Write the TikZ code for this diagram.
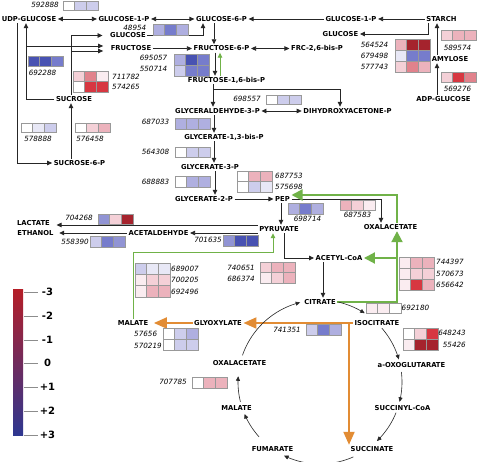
\documentclass[tikz,border=0pt]{standalone}
\usepackage{fontspec}
\setmainfont{DejaVu Sans}
\usetikzlibrary{arrows.meta,calc}
\definecolor{grn}{RGB}{112,178,72}
\definecolor{org}{RGB}{226,140,52}
\definecolor{L1}{RGB}{232,232,246}
\definecolor{L2}{RGB}{205,205,236}
\definecolor{L3}{RGB}{175,175,224}
\definecolor{L4}{RGB}{145,148,212}
\definecolor{B1}{RGB}{118,124,204}
\definecolor{B2}{RGB}{72,82,178}
\definecolor{P1}{RGB}{250,236,240}
\definecolor{P2}{RGB}{244,208,215}
\definecolor{P3}{RGB}{236,178,188}
\definecolor{P4}{RGB}{225,130,140}
\definecolor{R1}{RGB}{215,55,65}
\definecolor{R2}{RGB}{165,35,45}
\definecolor{lgtop}{RGB}{180,30,40}
\definecolor{lgbot}{RGB}{45,55,145}
\newcommand{\heatrow}[6]{%
  \filldraw[hbx,fill=#4] (#1,#2) rectangle ++(11.6,#3);
  \filldraw[hbx,fill=#5] ({#1+11.6},#2) rectangle ++(11.6,#3);
  \filldraw[hbx,fill=#6] ({#1+23.2},#2) rectangle ++(11.6,#3);}
\begin{document}
\begin{tikzpicture}[x=1pt,y=-1pt,
  met/.style={font=\bfseries\fontsize{6.8}{7}\selectfont, inner sep=1.5pt, text height=5pt, text depth=0pt},
  num/.style={font=\itshape\fontsize{7.2}{8}\selectfont, inner sep=1pt, text height=5.2pt, text depth=0pt},
  leg/.style={font=\bfseries\fontsize{10}{11}\selectfont, inner sep=1pt},
  ln/.style={draw=black!85, line width=0.8pt},
  ar/.style={ln, -{Triangle[length=5pt,width=4.5pt]}},
  dar/.style={ln, {Triangle[length=5pt,width=4.5pt]}-{Triangle[length=5pt,width=4.5pt]}},
  gbig/.style={draw=grn, line width=2pt, -{Triangle[length=11pt,width=11pt]}},
  gthin/.style={draw=grn, line width=1pt, -{Triangle[length=5pt,width=4.5pt]}},
  obig/.style={draw=org, line width=2pt, -{Triangle[length=13pt,width=11pt]}},
  tca/.style={draw=black!85, line width=0.6pt, -{Triangle[length=4.5pt,width=4pt]}},
  hbx/.style={draw=black!40, line width=0.5pt},
  tick/.style={draw=black!45, line width=0.7pt}]
\useasboundingbox (0,0) rectangle (477,462);
\fill[white] (0,0) rectangle (477,462);
% metabolites
\node[met] (udpg) at (29,19) {UDP-GLUCOSE};
\node[met] (g1p) at (124,19) {GLUCOSE-1-P};
\node[met] (g6p) at (221.5,19) {GLUCOSE-6-P};
\node[met] (g1pr) at (351,19) {GLUCOSE-1-P};
\node[met] (starch) at (441.5,19) {STARCH};
\node[met] (glcl) at (128,35.5) {GLUCOSE};
\node[met] (glcr) at (340.5,34) {GLUCOSE};
\node[met] (fru) at (131,48.5) {FRUCTOSE};
\node[met] (f6p) at (221.5,48.5) {FRUCTOSE-6-P};
\node[met] (frc) at (317,48.5) {FRC-2,6-bis-P};
\node[met] (amyl) at (450,59) {AMYLOSE};
\node[met] (adpg) at (443.5,99) {ADP-GLUCOSE};
\node[met] (f16) at (226.5,80) {FRUCTOSE-1,6-bis-P};
\node[met] (suc) at (74,99) {SUCROSE};
\node[met] (g3p) at (217.5,111) {GLYCERALDEHYDE-3-P};
\node[met] (dhap) at (347.5,111) {DIHYDROXYACETONE-P};
\node[met] (g13) at (224,137) {GLYCERATE-1,3-bis-P};
\node[met] (s6p) at (79.5,163) {SUCROSE-6-P};
\node[met] (g3pa) at (210,167) {GLYCERATE-3-P};
\node[met] (g2p) at (204,199) {GLYCERATE-2-P};
\node[met] (pep) at (282.5,199) {PEP};
\node[met] (oaa1) at (390.5,227) {OXALACETATE};
\node[met] (lac) at (33.5,223.5) {LACTATE};
\node[met] (eth) at (35.5,233) {ETHANOL};
\node[met] (acet) at (158.5,233) {ACETALDEHYDE};
\node[met] (pyr) at (279,229) {PYRUVATE};
\node[met] (acoa) at (339,258) {ACETYL-CoA};
\node[met] (cit) at (320,302) {CITRATE};
\node[met] (mal1) at (133,323) {MALATE};
\node[met] (glx) at (218,323) {GLYOXYLATE};
\node[met] (icit) at (377,323) {ISOCITRATE};
\node[met] (oaa2) at (239.5,363) {OXALACETATE};
\node[met] (aoxo) at (411.5,365) {a-OXOGLUTARATE};
\node[met] (mal2) at (236.5,408) {MALATE};
\node[met] (scoa) at (402.5,408) {SUCCINYL-CoA};
\node[met] (fum) at (272.5,449) {FUMARATE};
\node[met] (succ) at (372,449) {SUCCINATE};
% black connectors
\draw[dar] (udpg) -- (g1p);
\draw[dar] (g1p) -- (g6p);
\draw[ar] (g1pr) -- (g6p);
\draw[ar] (starch) -- (g1pr);
\draw[ar] ([xshift=-13.5pt]starch.south) |- (glcr.east);
\draw[ar] ([xshift=-13pt]amyl.north) -- ([xshift=-4.5pt]starch.south);
\draw[ar] ([xshift=-6.5pt]adpg.north) -- ([xshift=-13pt]amyl.south);
\draw[ar] ([xshift=-12pt]udpg.south) |- (s6p.west);
\draw[ar] (suc.west) -| ([xshift=-3pt]udpg.south);
\draw[ar] ([xshift=-8.5pt]s6p.north) -- ([xshift=-3pt]suc.south);
\coordinate (j1) at (26,46);
\draw[ar,shorten >=6pt] (j1) -- (j1 -| fru.west);
\draw[ar,shorten >=6pt] ([xshift=-3pt]suc.north) |- (glcl.west);
\coordinate (k1) at (71,51);
\draw[ar,shorten >=6pt] (k1) -- (k1 -| fru.west);
\draw[ar] (glcl.east) -| ([xshift=-18.5pt]g6p.south);
\draw[ar] (fru) -- (f6p);
\draw[ar] ([xshift=-7.5pt]g6p.south) -- ([xshift=-7.5pt]f6p.north);
\draw[dar] (f6p) -- (frc);
\draw[ar] ([xshift=-6.5pt]f6p.south) -- ([xshift=-11.5pt]f16.north);
\draw[gthin,line width=0.8pt] ([xshift=-6.5pt]f16.north) -- ([xshift=-1.5pt]f6p.south);
\draw[ar] ([xshift=-13.5pt]f16.south) -- ([xshift=-4.5pt]g3p.north);
\coordinate (t1) at (213,89);
\draw[ar] (t1) -| ([xshift=-7.5pt]dhap.north);
\draw[dar] (g3p) -- (dhap);
\draw[ar] ([xshift=-3.5pt]g3p.south) -- ([xshift=-10pt]g13.north);
\draw[ar] ([xshift=-10pt]g13.south) -- ([xshift=4pt]g3pa.north);
\draw[ar] ([xshift=5pt]g3pa.south) -- ([xshift=11pt]g2p.north);
\draw[ar] (g2p) -- (pep);
\draw[ar] ([xshift=-1.5pt]pep.south) -- ([xshift=2pt]pyr.north);
\draw[ar] (pep.east) -| ([xshift=-9.5pt]oaa1.north);
\draw[ar] ([xshift=5pt]pyr.south) |- (acoa.west);
\draw[ar] ([xshift=-16pt]acoa.south) -- ([xshift=3pt]cit.north);
\coordinate (pl) at ([yshift=4pt]pyr.west);
\draw[ar,shorten >=5pt] (pl) -- (pl -| lac.east);
\draw[ar] ([yshift=-4pt]pyr.west) -- (acet.east);
\draw[ar,shorten >=4pt] (acet) -- (eth);
% green connectors
\draw[gbig] ([xshift=6.5pt]oaa1.north) |- ([yshift=4pt]pep.east);
\draw[gbig] (cit.east) -| ([xshift=6.5pt]oaa1.south);
\coordinate (c2) at (397,258);
\draw[gbig] (c2) -- (acoa.east);
\coordinate (g1) at (133,253);
\draw[gthin] (mal1.north) -- (g1) -| ([xshift=-6pt]pyr.south);
% orange connectors
\draw[obig,shorten >=4pt] (glx) -- (mal1);
\draw[obig] (icit) -- (glx);
\coordinate (o1) at (349,323);
\draw[obig] (o1) -- (o1 |- succ.north);
% TCA cycle
\foreach \a/\b in {-77/-57,-41/-16,-7/14,22/46,66/116,138/157,166/184,199/256}
  \draw[tca] plot[domain=\a:\b,samples=20] ({320+82*cos(\x)},{382+82*sin(\x)});
% heat boxes
\heatrow{63}{1}{9}{white}{L2}{L2}
\heatrow{153}{24}{11}{L3}{B1}{L3}
\heatrow{28}{56}{10}{B2}{B2}{B1}
\heatrow{73}{71}{10.5}{P2}{P4}{P1}
\heatrow{73}{81.5}{10.5}{white}{R1}{R1}
\heatrow{21}{123}{9.5}{white}{L1}{L2}
\heatrow{75}{123}{9.5}{white}{P2}{P3}
\heatrow{174}{54}{11}{L3}{B2}{B1}
\heatrow{174}{65}{11}{L2}{B1}{B1}
\heatrow{175}{118}{11}{L3}{L3}{L3}
\heatrow{175}{147}{10}{white}{L2}{L2}
\heatrow{175}{176}{11}{white}{L3}{L3}
\heatrow{266}{95}{9.5}{white}{L2}{L2}
\heatrow{395}{39}{11}{P3}{R2}{R2}
\heatrow{395}{50}{11}{L1}{B1}{B1}
\heatrow{395}{61}{11}{P2}{P4}{P3}
\heatrow{441}{30}{10}{P2}{P3}{P3}
\heatrow{441}{72}{10}{P2}{R1}{P4}
\heatrow{237}{171}{10.5}{white}{P3}{P3}
\heatrow{237}{181.5}{10.5}{white}{L2}{L1}
\heatrow{288}{203}{11}{L3}{B1}{L3}
\heatrow{340}{200}{10}{P3}{P2}{P1}
\heatrow{98}{214}{10}{L4}{P2}{R2}
\heatrow{90}{236}{11}{L2}{B1}{L4}
\heatrow{223}{235}{11}{L4}{B2}{B2}
\heatrow{135}{263}{11.3}{L2}{L1}{L1}
\heatrow{135}{274.3}{11.3}{P1}{P2}{P2}
\heatrow{135}{285.6}{11.3}{P1}{P3}{P3}
\heatrow{260}{262}{10.5}{P2}{P3}{P3}
\heatrow{260}{272.5}{10.5}{P1}{P2}{P3}
\heatrow{399}{257}{11}{P1}{P3}{P3}
\heatrow{399}{268}{11}{P1}{P2}{P2}
\heatrow{399}{279}{11}{P1}{R1}{P3}
\heatrow{366}{303.5}{10}{P1}{P1}{white}
\heatrow{403}{328}{11}{white}{P2}{R1}
\heatrow{403}{339}{11}{P1}{R2}{R2}
\heatrow{163}{328}{11}{white}{L2}{L3}
\heatrow{163}{339}{11}{white}{L2}{L2}
\heatrow{306}{324.5}{10.5}{L2}{B1}{L3}
\heatrow{192}{377}{11}{white}{P3}{P3}
% numbers
\node[num,anchor=east] (n592888) at (60,5) {592888};
\node[num,anchor=east] (n48954) at (147.5,28) {48954};
\node[num] (n692288) at (42.5,73) {692288};
\node[num,anchor=west] (n711782) at (111,77) {711782};
\node[num,anchor=west] (n574265) at (111,87) {574265};
\node[num] (n578888) at (38,139) {578888};
\node[num] (n576458) at (90,139) {576458};
\node[num,anchor=east] (n695057) at (168.5,57.5) {695057};
\node[num,anchor=east] (n550714) at (168.5,68.5) {550714};
\node[num,anchor=east] (n687033) at (170.5,122) {687033};
\node[num,anchor=east] (n564308) at (170.5,151.5) {564308};
\node[num,anchor=east] (n688883) at (170.5,181.5) {688883};
\node[num,anchor=east] (n698557) at (262,99) {698557};
\node[num,anchor=east] (n564524) at (389.5,44.5) {564524};
\node[num,anchor=east] (n679498) at (389.5,55.5) {679498};
\node[num,anchor=east] (n577743) at (389.5,66.5) {577743};
\node[num] (n589574) at (457.5,48) {589574};
\node[num] (n569276) at (457.5,89) {569276};
\node[num,anchor=west] (n687753) at (274,176) {687753};
\node[num,anchor=west] (n575698) at (274,187) {575698};
\node[num] (n698714) at (307.5,218.5) {698714};
\node[num] (n687583) at (357.5,215) {687583};
\node[num,anchor=east] (n704268) at (94,218) {704268};
\node[num,anchor=east] (n558390) at (90,242) {558390};
\node[num,anchor=east] (n701635) at (223,240) {701635};
\node[num,anchor=west] (n689007) at (170,269) {689007};
\node[num,anchor=west] (n700205) at (170,280) {700205};
\node[num,anchor=west] (n692496) at (170,291.5) {692496};
\node[num,anchor=east] (n740651) at (256,268) {740651};
\node[num,anchor=east] (n686374) at (256,278.5) {686374};
\node[num,anchor=west] (n744397) at (435,262) {744397};
\node[num,anchor=west] (n570673) at (435,273.5) {570673};
\node[num,anchor=west] (n656642) at (435,285) {656642};
\node[num,anchor=west] (n692180) at (400.5,308) {692180};
\node[num,anchor=east] (n648243) at (467,333) {648243};
\node[num,anchor=east] (n55426) at (467,344.5) {55426};
\node[num,anchor=west] (n57656) at (133,334) {57656};
\node[num,anchor=west] (n570219) at (133,345.5) {570219};
\node[num,anchor=east] (n741351) at (302,330) {741351};
\node[num,anchor=east] (n707785) at (188,382) {707785};
% legend
\shade[top color=lgtop, middle color=white, bottom color=lgbot] (13,290) rectangle (23,436);
\foreach \yy/\tx/\nm in {292/-3/la,316/-2/lb,340/-1/lc,363/0/ld,387/+1/le,411/+2/lf,435/+3/lg}{
  \draw[tick] (24,\yy) -- (38,\yy);
  \node[leg] (\nm) at (47.5,\yy) {\tx};
}
\end{tikzpicture}
\end{document}
